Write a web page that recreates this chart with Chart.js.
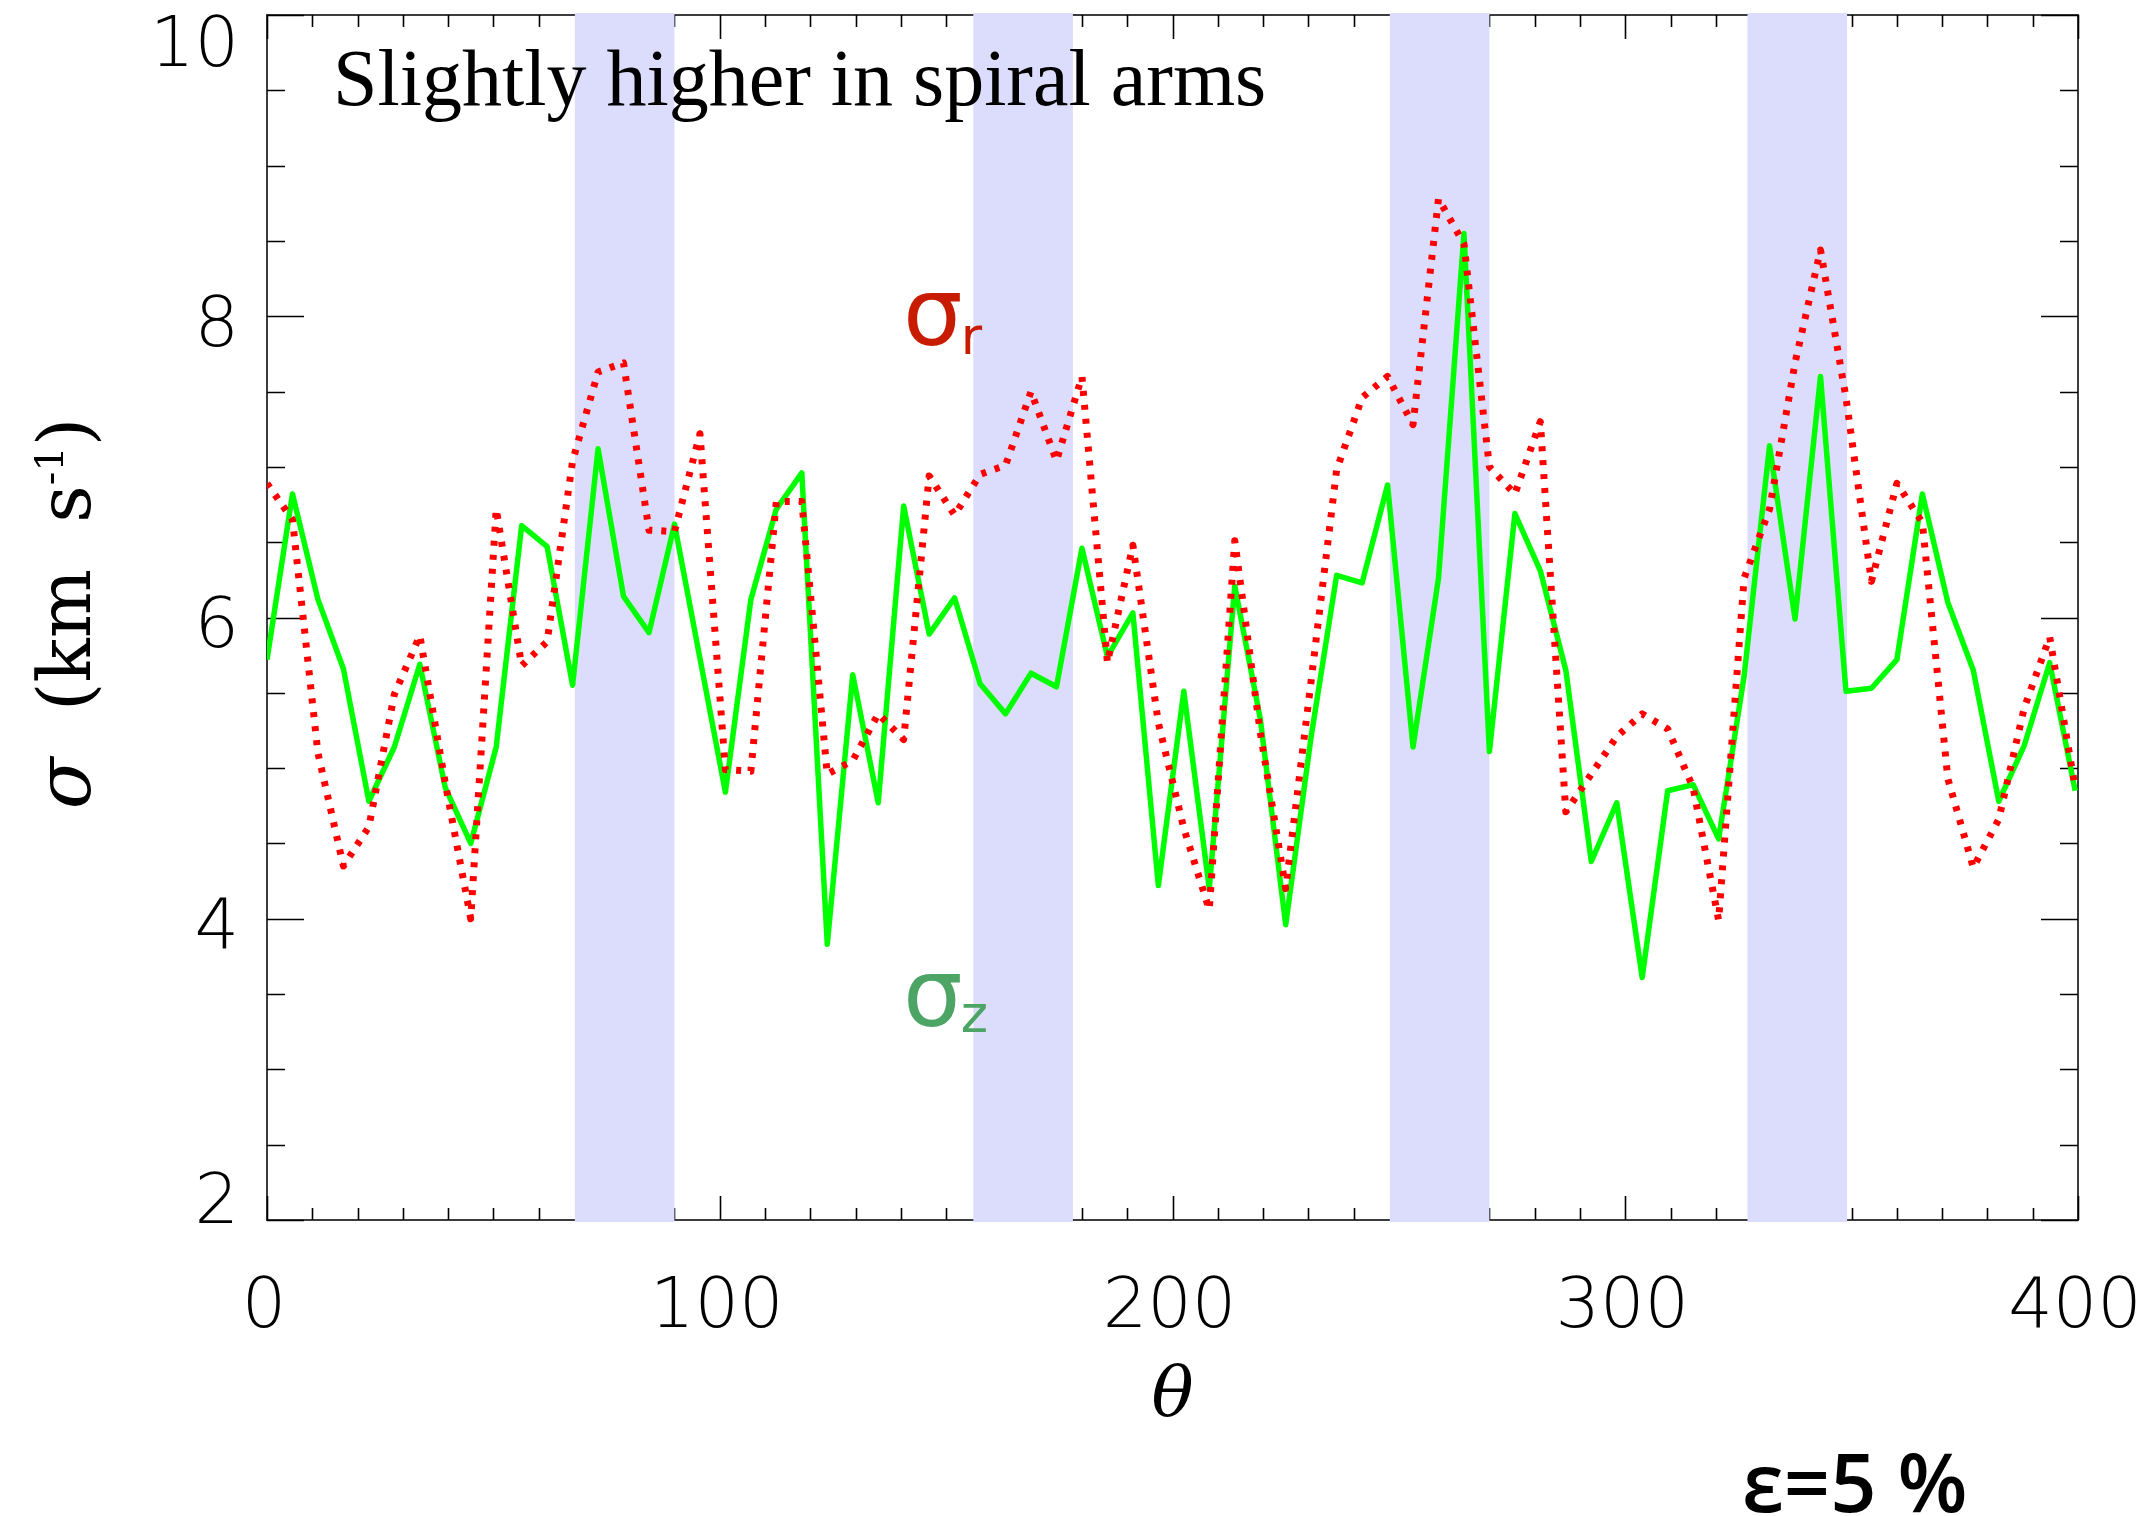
<!DOCTYPE html>
<html>
<head>
<meta charset="utf-8">
<script src="https://cdn.jsdelivr.net/npm/chart.js@4.4.1/dist/chart.umd.min.js"></script>
<style>
  html, body { margin: 0; padding: 0; background: #fff; }
  #wrap { width: 2149px; height: 1516px; }
</style>
</head>
<body>
<div id="wrap"><canvas id="chart" width="2149" height="1516"></canvas></div>
<script>
// azimuth samples (deg), 64 per turn, plotted past 360
const theta = [
  0, 5.625, 11.25, 16.875, 22.5, 28.125, 33.75, 39.375, 45, 50.625,
  56.25, 61.875, 67.5, 73.125, 78.75, 84.375, 90, 95.625, 101.25, 106.875,
  112.5, 118.125, 123.75, 129.375, 135, 140.625, 146.25, 151.875, 157.5, 163.125,
  168.75, 174.375, 180, 185.625, 191.25, 196.875, 202.5, 208.125, 213.75, 219.375,
  225, 230.625, 236.25, 241.875, 247.5, 253.125, 258.75, 264.375, 270, 275.625,
  281.25, 286.875, 292.5, 298.125, 303.75, 309.375, 315, 320.625, 326.25, 331.875,
  337.5, 343.125, 348.75, 354.375, 360, 365.625, 371.25, 376.875, 382.5, 388.125,
  393.75, 399.375
];
const sigmaR = [
  6.89, 6.65, 5.10, 4.35, 4.61, 5.49, 5.88, 4.90, 4.00, 6.72,
  5.68, 5.84, 7.04, 7.63, 7.69, 6.58, 6.57, 7.22, 4.99, 4.98,
  6.77, 6.77, 4.96, 5.05, 5.36, 5.19, 6.94, 6.68, 6.95, 7.01,
  7.50, 7.04, 7.60, 5.70, 6.48, 5.30, 4.60, 4.06, 6.51, 5.24,
  4.20, 5.58, 6.98, 7.46, 7.60, 7.28, 8.78, 8.48, 7.00, 6.82,
  7.30, 4.71, 4.96, 5.21, 5.36, 5.26, 4.87, 3.99, 6.26, 6.72,
  7.69, 8.44, 7.46, 6.24, 6.89, 6.63, 4.93, 4.34, 4.66, 5.40,
  5.87, 4.87
];
const sigmaZ = [
  5.72, 6.82, 6.12, 5.66, 4.78, 5.14, 5.69, 4.87, 4.50, 5.14,
  6.61, 6.47, 5.55, 7.12, 6.14, 5.90, 6.62, 5.73, 4.84, 6.12,
  6.72, 6.96, 3.83, 5.62, 4.77, 6.74, 5.89, 6.13, 5.56, 5.36,
  5.63, 5.54, 6.46, 5.74, 6.03, 4.22, 5.51, 4.20, 6.21, 5.33,
  3.96, 5.21, 6.28, 6.23, 6.88, 5.14, 6.26, 8.55, 5.11, 6.69,
  6.31, 5.65, 4.38, 4.77, 3.61, 4.85, 4.89, 4.53, 5.61, 7.14,
  5.99, 7.60, 5.51, 5.53, 5.72, 6.82, 6.10, 5.65, 4.78, 5.15,
  5.70, 4.85
];
// spiral arm crossings, shaded
const armBands = [[68, 90], [156, 178], [248, 270], [327, 349]];

const xTicks = [0, 100, 200, 300, 400];
const xTickLabels = ['0', '100', '200', '300', '400'];
const yTicks = [2, 4, 6, 8, 10];
const yTickLabels = ['2', '4', '6', '8', '10'];

const panelNote = 'Slightly higher in spiral arms';
const epsNote = 'ε=5 %';

const points = (ys) => theta.map((t, i) => ({ x: t, y: ys[i] }));

const idlAxes = {
  id: 'idlAxes',
  beforeDatasetsDraw(chart) {
    const { ctx, chartArea: a, scales: { x, y } } = chart;
    ctx.save();
    ctx.strokeStyle = '#3c3c3c';
    ctx.lineWidth = 2;
    ctx.strokeRect(a.left, a.top, a.right - a.left, a.bottom - a.top);

    ctx.strokeStyle = '#000';
    ctx.lineWidth = 1.6;
    ctx.beginPath();
    for (let v = 2; v <= 10; v += 0.5) {
      const py = Math.round(y.getPixelForValue(v)) + 0.5;
      const len = v % 2 === 0 ? 37 : 18;
      ctx.moveTo(a.left, py); ctx.lineTo(a.left + len, py);
      ctx.moveTo(a.right, py); ctx.lineTo(a.right - len, py);
    }
    for (let v = 0; v <= 400; v += 10) {
      const px = Math.round(x.getPixelForValue(v)) + 0.5;
      const len = v % 100 === 0 ? 24 : 12;
      ctx.moveTo(px, a.bottom); ctx.lineTo(px, a.bottom - len);
      ctx.moveTo(px, a.top); ctx.lineTo(px, a.top + len);
    }
    ctx.stroke();

    ctx.fillStyle = 'rgb(220,220,252)';
    armBands.forEach(([b0, b1]) => {
      const x0 = x.getPixelForValue(b0);
      const x1 = x.getPixelForValue(b1);
      ctx.fillRect(x0, a.top - 2, x1 - x0, a.bottom - a.top + 4);
    });
    ctx.restore();
  },
  afterDraw(chart) {
    const { ctx, chartArea: a, scales: { x, y } } = chart;
    ctx.save();
    ctx.fillStyle = '#000';

    // tick labels
    ctx.font = '200 70px "DejaVu Sans"';
    ctx.textAlign = 'right';
    ctx.textBaseline = 'alphabetic';
    yTicks.forEach((v, i) => {
      let base = y.getPixelForValue(v) + 29.5;
      base = Math.max(base, a.top + 51);
      base = Math.min(base, a.bottom + 3);
      ctx.fillText(yTickLabels[i], a.left - 28, base);
    });
    ctx.textAlign = 'center';
    xTicks.forEach((v, i) => {
      ctx.fillText(xTickLabels[i], x.getPixelForValue(v) - 3, a.bottom + 107);
    });

    // x title
    ctx.font = 'italic 70px "DejaVu Serif"';
    ctx.fillText('θ', (a.left + a.right) / 2, 1416);

    // y title, rotated
    ctx.save();
    ctx.translate(90, (a.top + a.bottom) / 2 - 4);
    ctx.rotate(-Math.PI / 2);
    const parts = [
      { t: 'σ', f: 'italic 76px "DejaVu Serif"', dy: 0 },
      { t: '  (km  s', f: '73px "DejaVu Serif"', dy: 0 },
      { t: '-1', f: '40px "DejaVu Serif"', dy: -27 },
      { t: ')', f: '73px "DejaVu Serif"', dy: 0 },
    ];
    let total = 0;
    parts.forEach((p) => { ctx.font = p.f; p.w = ctx.measureText(p.t).width; total += p.w; });
    let cx = -total / 2;
    ctx.textAlign = 'left';
    parts.forEach((p) => { ctx.font = p.f; ctx.fillText(p.t, cx, p.dy); cx += p.w; });
    ctx.restore();

    // panel note
    ctx.textAlign = 'left';
    ctx.font = '80px "Liberation Serif"';
    ctx.fillText(panelNote, a.left + 66, 105);

    // curve labels
    const sx = x.getPixelForValue(140.5);
    ctx.fillStyle = '#c81c00';
    ctx.font = '94px "DejaVu Sans"';
    ctx.fillText('σ', sx, y.getPixelForValue(7.81));
    const w = ctx.measureText('σ').width;
    ctx.font = '52px "DejaVu Sans"';
    ctx.fillText('r', sx + w - 2, y.getPixelForValue(7.81) + 9);

    ctx.fillStyle = '#4ca564';
    ctx.font = '94px "DejaVu Sans"';
    ctx.fillText('σ', sx, y.getPixelForValue(3.29));
    ctx.font = '52px "DejaVu Sans"';
    ctx.fillText('z', sx + w - 2, y.getPixelForValue(3.29) + 6);

    // epsilon note
    ctx.fillStyle = '#000';
    ctx.font = '600 81px "Open Sans"';
    ctx.fillText(epsNote, 1742, 1512);
    ctx.restore();
  }
};

new Chart(document.getElementById('chart'), {
  type: 'line',
  data: {
    datasets: [
      {
        label: 'sigma_r',
        data: points(sigmaR),
        borderColor: '#ff0000',
        borderWidth: 7,
        borderDash: [5, 9],
        borderCapStyle: 'butt',
        borderJoinStyle: 'round',
        pointRadius: 0,
        tension: 0,
        fill: false,
      },
      {
        label: 'sigma_z',
        data: points(sigmaZ),
        borderColor: '#00ff00',
        borderWidth: 5.5,
        borderJoinStyle: 'round',
        pointRadius: 0,
        tension: 0,
        fill: false,
      },
    ],
  },
  options: {
    responsive: false,
    devicePixelRatio: 1,
    animation: false,
    layout: { padding: { left: 267, right: 71, top: 15, bottom: 296 } },
    plugins: { legend: { display: false }, tooltip: { enabled: false } },
    scales: {
      x: { type: 'linear', min: 0, max: 400, display: false },
      y: { type: 'linear', min: 2, max: 10, display: false },
    },
  },
  plugins: [idlAxes],
});
</script>
</body>
</html>
